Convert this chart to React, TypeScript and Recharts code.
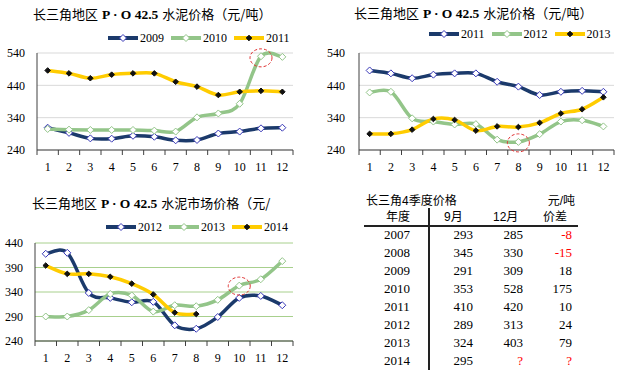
import React from 'react';
import { LineChart, Line, XAxis, YAxis, CartesianGrid, ReferenceDot } from 'recharts';

// ---- data ----
const months = [1, 2, 3, 4, 5, 6, 7, 8, 9, 10, 11, 12];
const p2009 = [309, 293, 276, 275, 284, 281, 270, 271, 291, 297, 307, 309];
const p2010 = [305, 303, 302, 302, 302, 300, 297, 341, 353, 383, 530, 528];
const p2011 = [486, 477, 462, 473, 477, 477, 451, 436, 410, 420, 423, 420];
const p2012 = [418, 420, 338, 328, 319, 320, 272, 265, 289, 328, 332, 313];
const p2013 = [290, 290, 303, 336, 333, 300, 313, 311, 324, 353, 366, 403];
const p2014 = [394, 377, 377, 371, 357, 335, 298, 295, null, null, null, null];

const ticksWide = [240, 340, 440, 540];
const ticksNarrow = [240, 290, 340, 390, 440];

const tableYears = ['2007', '2008', '2009', '2010', '2011', '2012', '2013', '2014'];
const q4Sep = ['293', '345', '291', '353', '410', '289', '324', '295'];
const q4Dec = ['285', '330', '309', '528', '420', '313', '403', '?'];
const q4Diff = ['-8', '-15', '18', '175', '10', '24', '79', '?'];

const data = months.map((m, i) => ({
  m,
  y2009: p2009[i],
  y2010: p2010[i],
  y2011: p2011[i],
  y2012: p2012[i],
  y2013: p2013[i],
  y2014: p2014[i],
}));

const AXIS = '#404040';
const NAVY = '#1B3A6B';
const GREEN = '#93C589';
const YELLOW = '#FFCC00';
const SERIF = "'Liberation Serif', 'Times New Roman', serif";
const CJK = "'Noto Sans CJK SC', sans-serif";
const SANS = "'Liberation Sans', 'Noto Sans CJK SC', sans-serif";

type Series = { key: string; name: string; color: string; marker: 'hollow' | 'solid'; markerStroke?: string };

const chart1: Series[] = [
  { key: 'y2009', name: '2009', color: NAVY, marker: 'hollow', markerStroke: '#3838B8' },
  { key: 'y2010', name: '2010', color: GREEN, marker: 'hollow', markerStroke: GREEN },
  { key: 'y2011', name: '2011', color: YELLOW, marker: 'solid' },
];
const chart2: Series[] = [
  { key: 'y2011', name: '2011', color: NAVY, marker: 'hollow', markerStroke: '#3838B8' },
  { key: 'y2012', name: '2012', color: GREEN, marker: 'hollow', markerStroke: GREEN },
  { key: 'y2013', name: '2013', color: YELLOW, marker: 'solid' },
];
const chart3: Series[] = [
  { key: 'y2012', name: '2012', color: NAVY, marker: 'hollow', markerStroke: '#3838B8' },
  { key: 'y2013', name: '2013', color: GREEN, marker: 'hollow', markerStroke: GREEN },
  { key: 'y2014', name: '2014', color: YELLOW, marker: 'solid' },
];

// Excel-like smoothed line (Catmull-Rom through the points)
function smoothCurve(context: any) {
  let pts: number[][] = [];
  return {
    areaStart() {},
    areaEnd() {},
    lineStart() {
      pts = [];
    },
    lineEnd() {
      const n = pts.length;
      if (!n) return;
      context.moveTo(pts[0][0], pts[0][1]);
      for (let i = 0; i < n - 1; i++) {
        const p0 = pts[Math.max(i - 1, 0)];
        const p1 = pts[i];
        const p2 = pts[i + 1];
        const p3 = pts[Math.min(i + 2, n - 1)];
        context.bezierCurveTo(
          p1[0] + (p2[0] - p0[0]) / 6,
          p1[1] + (p2[1] - p0[1]) / 6,
          p2[0] - (p3[0] - p1[0]) / 6,
          p2[1] - (p3[1] - p1[1]) / 6,
          p2[0],
          p2[1]
        );
      }
    },
    point(x: number, y: number) {
      pts.push([+x, +y]);
    },
  };
}

const diamond = (s: Series) => (props: any) => {
  const { cx, cy, index } = props;
  if (cx == null || cy == null || props.value == null) return <g key={index} />;
  const r = s.marker === 'hollow' ? 3.5 : 2.8;
  return (
    <polygon
      key={index}
      points={`${cx},${cy - r} ${cx + r},${cy} ${cx},${cy + r} ${cx - r},${cy}`}
      fill={s.marker === 'hollow' ? '#fff' : '#111'}
      stroke={s.marker === 'hollow' ? s.markerStroke : '#111'}
      strokeWidth={1}
    />
  );
};

const MonthTick = (props: any) => {
  const { x, y, payload, index, visibleTicksCount } = props;
  const half = payload && payload.offset ? payload.offset : 10.7;
  return (
    <g>
      <line x1={x - half} x2={x - half} y1={y - 5} y2={y} stroke={AXIS} />
      {index === visibleTicksCount - 1 && <line x1={x + half} x2={x + half} y1={y - 5} y2={y} stroke={AXIS} />}
      <text x={x} y={y + 16} textAnchor="middle" style={{ fontFamily: SERIF, fontSize: 12 }} fill="#000">
        {payload.value}
      </text>
    </g>
  );
};

const LegendRow = ({ series, left, top }: { series: Series[]; left: number; top: number }) => (
  <div style={{ position: 'absolute', left, top, display: 'flex', alignItems: 'center', height: 14 }}>
    {series.map((s) => (
      <div key={s.key} style={{ display: 'flex', alignItems: 'center', marginRight: 7 }}>
        <svg width={30} height={10}>
          <line x1={0} x2={30} y1={5} y2={5} stroke={s.color} strokeWidth={4} />
          {diamond(s)({ cx: 15, cy: 5, index: 0, value: 1 })}
        </svg>
        <span style={{ fontFamily: SERIF, fontSize: 12, marginLeft: 2, color: '#000' }}>{s.name}</span>
      </div>
    ))}
  </div>
);

const Title = ({ left, top, tail }: { left: number; top: number; tail: string }) => (
  <div style={{ position: 'absolute', left, top, fontFamily: CJK, fontSize: 13, lineHeight: '18px', whiteSpace: 'nowrap', color: '#000' }}>
    长三角地区
    <span style={{ fontFamily: SERIF, fontSize: 13.5, fontWeight: 'bold', margin: '0 4px' }}>P · O 42.5</span>
    {tail}
  </div>
);

interface PriceChartProps {
  series: Series[];
  domain: number[];
  ticks: number[];
  gridColor: string;
  yWidth: number;
  tickGap: number;
  margin: { top: number; right: number; bottom: number; left: number };
  xHeight: number;
  circle: { x: number; y: number };
}

const PriceChart: React.FC<PriceChartProps> = ({ series, domain, ticks, gridColor, yWidth, tickGap, margin, xHeight, circle }) => (
  <LineChart width={311} height={188} data={data} margin={margin}>
    <CartesianGrid vertical={false} stroke={gridColor} />
    <XAxis
      dataKey="m"
      scale="band"
      axisLine={{ stroke: AXIS }}
      tickLine={false}
      tickSize={5}
      tickMargin={0}
      height={xHeight}
      interval={0}
      tick={(p: any) => <MonthTick {...p} />}
    />
    <YAxis
      domain={domain}
      ticks={ticks}
      interval={0}
      width={yWidth}
      axisLine={{ stroke: AXIS }}
      tickLine={false}
      tickSize={0}
      tickMargin={tickGap}
      tick={{ fill: '#000', fontSize: 12, fontFamily: SERIF }}
    />
    {series.map((s) => (
      <Line
        key={s.key}
        dataKey={s.key}
        type={smoothCurve as any}
        stroke={s.color}
        strokeWidth={3.5}
        dot={diamond(s)}
        activeDot={false}
        isAnimationActive={false}
      />
    ))}
    <ReferenceDot
      x={circle.x}
      y={circle.y}
      ifOverflow="visible"
      shape={(p: any) => (
        <ellipse cx={p.cx} cy={p.cy} rx={11} ry={9} fill="none" stroke="#E03030" strokeWidth={1} strokeDasharray="3 2" />
      )}
    />
  </LineChart>
);

const rowTop = (i: number) => 227 + i * 18;
const isRed = (v: string) => v.startsWith('-') || v === '?';

const App: React.FC = () => {
  return (
    <div style={{ position: 'absolute', left: 0, top: 0, width: 622, height: 376, background: '#fff', overflow: 'hidden' }}>
      {/* top left */}
      <div style={{ position: 'absolute', left: 0, top: 0 }}>
        <PriceChart
          series={chart1}
          domain={[240, 540]}
          ticks={ticksWide}
          gridColor="#D9D9D9"
          yWidth={37}
          tickGap={12}
          margin={{ top: 53, right: 18, bottom: 8, left: 0 }}
          xHeight={30}
          circle={{ x: 11, y: 525 }}
        />
      </div>
      <Title left={33} top={5} tail="水泥价格（元/吨）" />
      <LegendRow series={chart1} left={108} top={31} />

      {/* top right */}
      <div style={{ position: 'absolute', left: 311, top: 0 }}>
        <PriceChart
          series={chart2}
          domain={[240, 540]}
          ticks={ticksWide}
          gridColor="#D9D9D9"
          yWidth={48}
          tickGap={14}
          margin={{ top: 53, right: 8, bottom: 8, left: 0 }}
          xHeight={30}
          circle={{ x: 8, y: 262 }}
        />
      </div>
      <Title left={354} top={4} tail="水泥价格（元/吨）" />
      <LegendRow series={chart2} left={429} top={27} />

      {/* bottom left */}
      <div style={{ position: 'absolute', left: 0, top: 188 }}>
        <PriceChart
          series={chart3}
          domain={[240, 440]}
          ticks={ticksNarrow}
          gridColor="#A8D08D"
          yWidth={35}
          tickGap={12}
          margin={{ top: 55, right: 18, bottom: 8, left: 0 }}
          xHeight={27}
          circle={{ x: 10, y: 352 }}
        />
      </div>
      <Title left={32} top={194} tail="水泥市场价格（元/" />
      <LegendRow series={chart3} left={106} top={220} />

      {/* bottom right: table */}
      <div style={{ position: 'absolute', left: 366, top: 192, fontFamily: SANS, fontSize: 12, lineHeight: '18px' }}>长三角4季度价格</div>
      <div style={{ position: 'absolute', right: 622 - 575, top: 192, fontFamily: SANS, fontSize: 12, lineHeight: '18px' }}>元/吨</div>
      <div style={{ position: 'absolute', left: 386, top: 208, fontFamily: SANS, fontSize: 12, lineHeight: '18px' }}>年度</div>
      <div style={{ position: 'absolute', left: 444, top: 208, fontFamily: SANS, fontSize: 12, lineHeight: '18px' }}>9月</div>
      <div style={{ position: 'absolute', left: 493, top: 208, fontFamily: SANS, fontSize: 12, lineHeight: '18px' }}>12月</div>
      <div style={{ position: 'absolute', left: 543, top: 208, fontFamily: SANS, fontSize: 12, lineHeight: '18px' }}>价差</div>
      <div style={{ position: 'absolute', left: 364, top: 225, width: 214, height: 1.5, background: '#222' }} />
      <div style={{ position: 'absolute', left: 428, top: 208, width: 1.5, height: 162, background: '#222' }} />
      {tableYears.map((y, i) => (
        <React.Fragment key={y}>
          <div style={{ position: 'absolute', left: 377, width: 40, textAlign: 'center', top: rowTop(i), fontFamily: SERIF, fontSize: 13, lineHeight: '16px' }}>{y}</div>
          <div style={{ position: 'absolute', right: 622 - 473, top: rowTop(i), fontFamily: SERIF, fontSize: 13, lineHeight: '16px' }}>{q4Sep[i]}</div>
          <div style={{ position: 'absolute', right: 622 - 523, top: rowTop(i), fontFamily: SERIF, fontSize: 13, lineHeight: '16px', color: isRed(q4Dec[i]) ? '#FF0000' : '#000' }}>{q4Dec[i]}</div>
          <div style={{ position: 'absolute', right: 622 - 572, top: rowTop(i), fontFamily: SERIF, fontSize: 13, lineHeight: '16px', color: isRed(q4Diff[i]) ? '#FF0000' : '#000' }}>{q4Diff[i]}</div>
        </React.Fragment>
      ))}
    </div>
  );
};

export default App;
